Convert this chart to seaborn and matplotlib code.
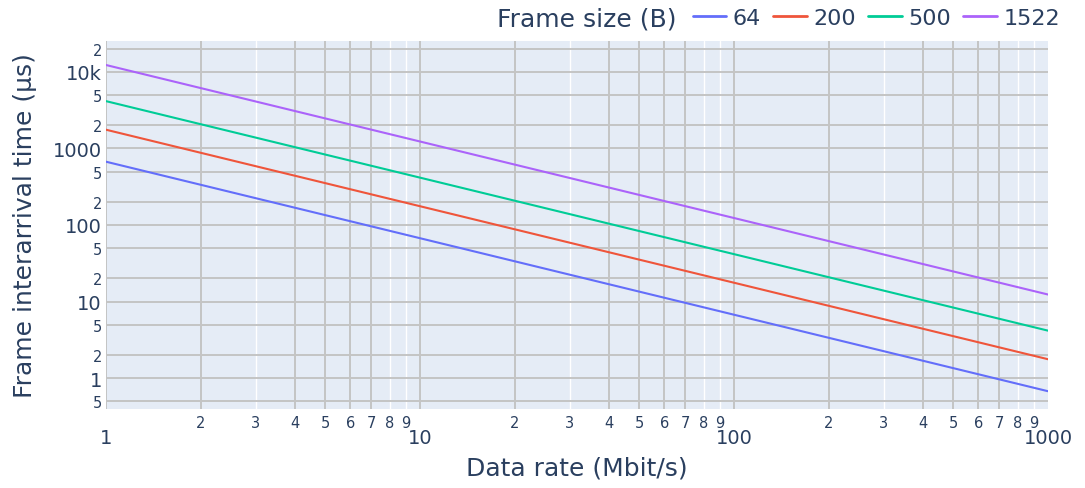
import numpy as np
import pandas as pd
import seaborn as sns
import matplotlib
matplotlib.use("Agg")
import matplotlib.pyplot as plt
from matplotlib.ticker import FixedLocator, FixedFormatter

# ---- data ----
data_rate = [1, 10, 100, 1000]              # Mbit/s
frame_sizes = ["64", "200", "500", "1522"]  # bytes
t_64 = [672, 67.2, 6.72, 0.672]             # µs
t_200 = [1760, 176, 17.6, 1.76]
t_500 = [4160, 416, 41.6, 4.16]
t_1522 = [12340, 1234, 123.4, 12.34]
colors = ["#636efa", "#EF553B", "#00cc96", "#ab63fa"]

rows = []
for fs, ys in zip(frame_sizes, [t_64, t_200, t_500, t_1522]):
    for x, y in zip(data_rate, ys):
        rows.append({"rate": x, "time": y, "Frame size (B)": fs})
df = pd.DataFrame(rows)

sns.set_theme(style="white")
plt.rcParams["font.family"] = ["DejaVu Sans"]
txt = "#2a3f5f"

fig = plt.figure(figsize=(10.85, 4.89), dpi=100)
ax = fig.add_axes([106/1085, 1-410/489, (1048-106)/1085, (410-42)/489])
ax.set_facecolor("#e5ecf6")

sns.lineplot(data=df, x="rate", y="time", hue="Frame size (B)",
             palette=dict(zip(frame_sizes, colors)), hue_order=frame_sizes,
             linewidth=1.5, ax=ax, legend=False, zorder=3)

ax.set_xscale("log")
ax.set_yscale("log")
ax.set_xlim(1, 1000)
ax.set_ylim(10**(-0.405), 10**(4.405))

# grid lines
gray = "#c4c4c4"
xs_gray = []
xs_white = []
for dec in [1, 10, 100]:
    for m, c in zip(range(1, 10), ["g", "g", "w", "g", "g", "g", "g", "w", "w"]):
        (xs_gray if c == "g" else xs_white).append(m * dec)
for v in xs_white:
    ax.axvline(v, color="white", lw=1.0, zorder=1)
for v in xs_gray:
    ax.axvline(v, color=gray, lw=1.4, zorder=1)
ys_grid = [0.5, 1, 2, 5, 10, 20, 50, 100, 200, 500, 1000, 2000, 5000, 10000, 20000]
for v in ys_grid:
    ax.axhline(v, color=gray, lw=1.4, zorder=1)

for s in ax.spines.values():
    s.set_visible(False)

# x ticks
ax.xaxis.set_major_locator(FixedLocator([1, 10, 100, 1000]))
ax.xaxis.set_major_formatter(FixedFormatter(["1", "10", "100", "1000"]))
xminor = [m * d for d in [1, 10, 100] for m in range(2, 10)]
ax.xaxis.set_minor_locator(FixedLocator(xminor))
ax.xaxis.set_minor_formatter(FixedFormatter([str(m) for d in [1, 10, 100] for m in range(2, 10)]))
ax.tick_params(axis="x", which="major", length=0, pad=14, labelsize=14, labelcolor=txt)
ax.tick_params(axis="x", which="minor", length=0, pad=4, labelsize=10.5, labelcolor=txt)

# y ticks
ax.yaxis.set_major_locator(FixedLocator([1, 10, 100, 1000, 10000]))
ax.yaxis.set_major_formatter(FixedFormatter(["1", "10", "100", "1000", "10k"]))
yminor = [0.5, 2, 5, 20, 50, 200, 500, 2000, 5000, 20000]
ax.yaxis.set_minor_locator(FixedLocator(yminor))
ax.yaxis.set_minor_formatter(FixedFormatter(["5", "2", "5", "2", "5", "2", "5", "2", "5", "2"]))
ax.tick_params(axis="y", which="major", length=0, pad=3, labelsize=14, labelcolor=txt)
ax.tick_params(axis="y", which="minor", length=0, pad=3, labelsize=10.5, labelcolor=txt)

ax.set_xlabel("Data rate (Mbit/s)", fontsize=18, color=txt, labelpad=6)
ax.set_ylabel("Frame interarrival time (µs)", fontsize=18, color=txt, labelpad=11)

# legend
fig.text(587/1085, 1-19/489, "Frame size (B)", fontsize=18, color=txt,
         ha="center", va="center")
handles = [plt.Line2D([0], [0], color=c, lw=2) for c in colors]
leg = fig.legend(handles, frame_sizes, loc="center left",
                 bbox_to_anchor=(693/1085, 1-19/489), ncol=4, frameon=False,
                 fontsize=16, handlelength=1.5, handletextpad=0.3,
                 columnspacing=0.55, borderaxespad=0, borderpad=0)
for t in leg.get_texts():
    t.set_color(txt)

fig.savefig("out.png", dpi=100)
